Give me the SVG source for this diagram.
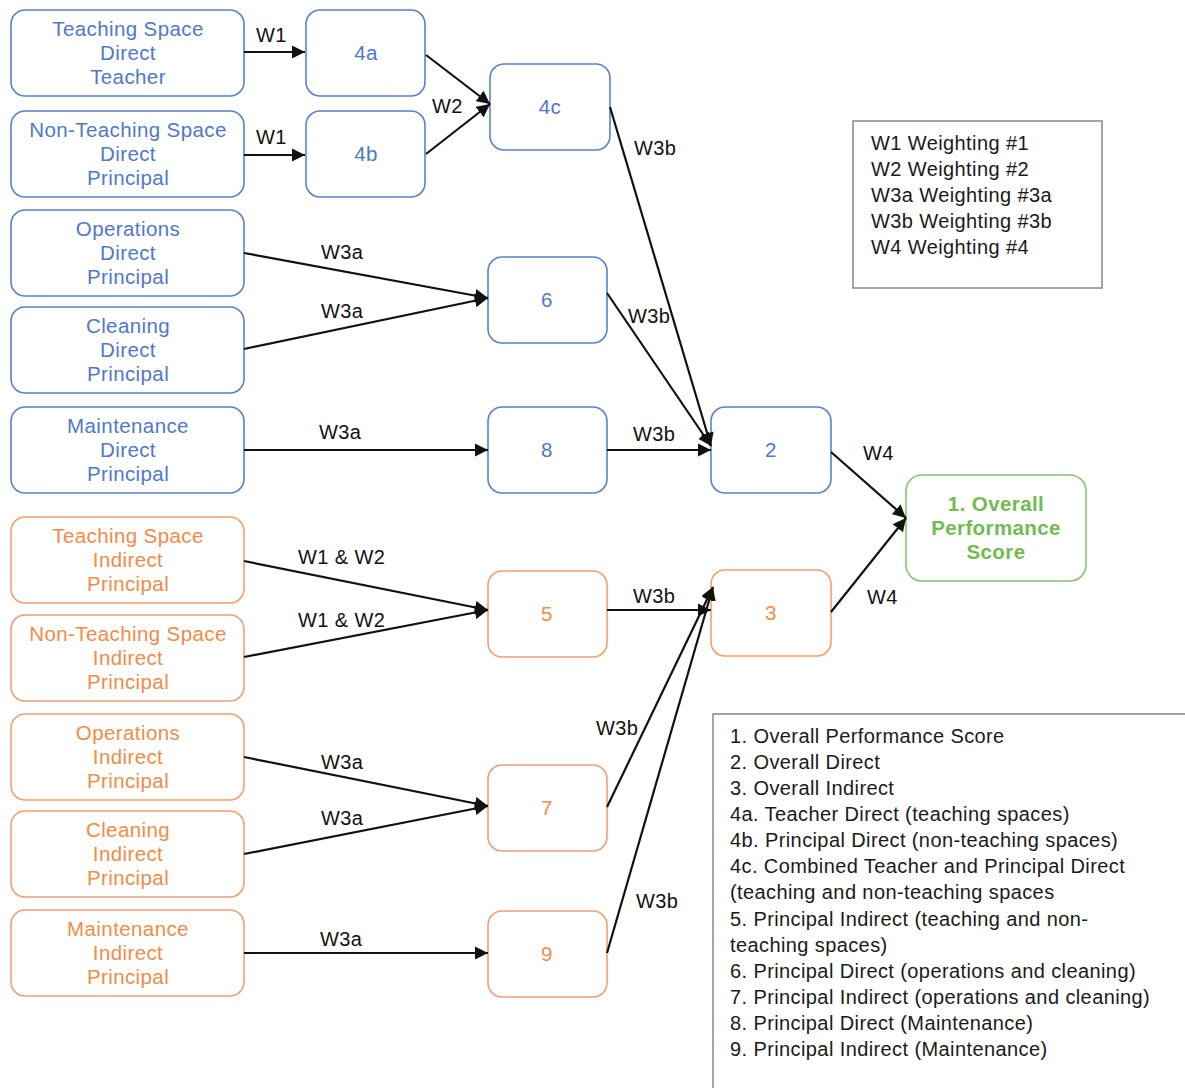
<svg xmlns="http://www.w3.org/2000/svg" width="1185" height="1088" viewBox="0 0 1185 1088">
<style>
  text { font-family: "Liberation Sans", Arial, sans-serif; }
  .box { fill: #fff; stroke-width: 1.6; }
  .d rect { stroke: #5b80cc; }
  .d text { fill: #5078c8; }
  .i rect { stroke: #f2a070; }
  .i text { fill: #f08c48; }
  .g rect { stroke: #88c46c; }
  .g text { fill: #72bb52; font-weight: bold; }
  .nt { font-size: 20.5px; letter-spacing: 0.4px; text-anchor: middle; }
  .edge { stroke: #111; stroke-width: 2.2; fill: none; marker-end: url(#ah); }
  .lbl { font-size: 20px; letter-spacing: 0.4px; fill: #111; }
  .leg rect { fill: #fff; stroke: #888; stroke-width: 1.5; }
  .leg text { font-size: 20px; letter-spacing: 0.4px; fill: #1a1a1a; }
</style>
<defs>
  <marker id="ah" viewBox="0 0 10 10" refX="10" refY="5" markerWidth="6" markerHeight="6" orient="auto" markerUnits="strokeWidth">
    <path d="M0,0 L10,5 L0,10 z" fill="#111"/>
  </marker>
</defs>
<rect width="1185" height="1088" fill="#fff"/>

<!-- source nodes: direct -->
<g id="ts-direct" class="d"><rect class="box" x="11" y="10" width="233" height="86" rx="14"/>
  <text class="nt" x="128" y="36">Teaching Space</text><text class="nt" x="128" y="60">Direct</text><text class="nt" x="128" y="84">Teacher</text></g>
<g id="nts-direct" class="d"><rect class="box" x="11" y="111" width="233" height="86" rx="14"/>
  <text class="nt" x="128" y="137">Non-Teaching Space</text><text class="nt" x="128" y="161">Direct</text><text class="nt" x="128" y="185">Principal</text></g>
<g id="ops-direct" class="d"><rect class="box" x="11" y="210" width="233" height="86" rx="14"/>
  <text class="nt" x="128" y="236">Operations</text><text class="nt" x="128" y="260">Direct</text><text class="nt" x="128" y="284">Principal</text></g>
<g id="clean-direct" class="d"><rect class="box" x="11" y="307" width="233" height="86" rx="14"/>
  <text class="nt" x="128" y="333">Cleaning</text><text class="nt" x="128" y="357">Direct</text><text class="nt" x="128" y="381">Principal</text></g>
<g id="maint-direct" class="d"><rect class="box" x="11" y="407" width="233" height="86" rx="14"/>
  <text class="nt" x="128" y="433">Maintenance</text><text class="nt" x="128" y="457">Direct</text><text class="nt" x="128" y="481">Principal</text></g>

<!-- source nodes: indirect -->
<g id="ts-indirect" class="i"><rect class="box" x="11" y="517" width="233" height="86" rx="14"/>
  <text class="nt" x="128" y="543">Teaching Space</text><text class="nt" x="128" y="567">Indirect</text><text class="nt" x="128" y="591">Principal</text></g>
<g id="nts-indirect" class="i"><rect class="box" x="11" y="615" width="233" height="86" rx="14"/>
  <text class="nt" x="128" y="641">Non-Teaching Space</text><text class="nt" x="128" y="665">Indirect</text><text class="nt" x="128" y="689">Principal</text></g>
<g id="ops-indirect" class="i"><rect class="box" x="11" y="714" width="233" height="86" rx="14"/>
  <text class="nt" x="128" y="740">Operations</text><text class="nt" x="128" y="764">Indirect</text><text class="nt" x="128" y="788">Principal</text></g>
<g id="clean-indirect" class="i"><rect class="box" x="11" y="811" width="233" height="86" rx="14"/>
  <text class="nt" x="128" y="837">Cleaning</text><text class="nt" x="128" y="861">Indirect</text><text class="nt" x="128" y="885">Principal</text></g>
<g id="maint-indirect" class="i"><rect class="box" x="11" y="910" width="233" height="86" rx="14"/>
  <text class="nt" x="128" y="936">Maintenance</text><text class="nt" x="128" y="960">Indirect</text><text class="nt" x="128" y="984">Principal</text></g>

<!-- intermediate score nodes -->
<g id="n4a" class="d"><rect class="box" x="306" y="10" width="119" height="86" rx="14"/><text class="nt" x="366" y="60">4a</text></g>
<g id="n4b" class="d"><rect class="box" x="306" y="111" width="119" height="86" rx="14"/><text class="nt" x="366" y="161">4b</text></g>
<g id="n4c" class="d"><rect class="box" x="490" y="64" width="120" height="86" rx="14"/><text class="nt" x="550" y="114">4c</text></g>
<g id="n6" class="d"><rect class="box" x="488" y="257" width="119" height="86" rx="14"/><text class="nt" x="547" y="307">6</text></g>
<g id="n8" class="d"><rect class="box" x="488" y="407" width="119" height="86" rx="14"/><text class="nt" x="547" y="457">8</text></g>
<g id="n5" class="i"><rect class="box" x="488" y="571" width="119" height="86" rx="14"/><text class="nt" x="547" y="621">5</text></g>
<g id="n7" class="i"><rect class="box" x="488" y="765" width="119" height="86" rx="14"/><text class="nt" x="547" y="815">7</text></g>
<g id="n9" class="i"><rect class="box" x="488" y="911" width="119" height="86" rx="14"/><text class="nt" x="547" y="961">9</text></g>
<g id="n2" class="d"><rect class="box" x="711" y="407" width="120" height="86" rx="14"/><text class="nt" x="771" y="457">2</text></g>
<g id="n3" class="i"><rect class="box" x="711" y="570" width="120" height="86" rx="14"/><text class="nt" x="771" y="620">3</text></g>
<g id="n1" class="g"><rect class="box" x="906" y="475" width="180" height="106" rx="16"/>
  <text class="nt" x="996" y="511">1. Overall</text><text class="nt" x="996" y="535">Performance</text><text class="nt" x="996" y="559">Score</text></g>

<!-- connectors -->
<g id="connectors">
  <line class="edge" x1="244" y1="52" x2="305" y2="52"/>
  <line class="edge" x1="244" y1="155" x2="305" y2="155"/>
  <line class="edge" x1="426" y1="55" x2="490" y2="104"/>
  <line class="edge" x1="426" y1="154" x2="490" y2="104"/>
  <line class="edge" x1="610" y1="107" x2="711" y2="446"/>
  <line class="edge" x1="244" y1="253" x2="488" y2="298"/>
  <line class="edge" x1="244" y1="349" x2="488" y2="298"/>
  <line class="edge" x1="607" y1="293" x2="711" y2="446"/>
  <line class="edge" x1="244" y1="450" x2="488" y2="450"/>
  <line class="edge" x1="607" y1="450" x2="711" y2="450"/>
  <line class="edge" x1="831" y1="452" x2="906" y2="518"/>
  <line class="edge" x1="831" y1="612" x2="906" y2="518"/>
  <line class="edge" x1="244" y1="561" x2="488" y2="610"/>
  <line class="edge" x1="244" y1="657" x2="488" y2="610"/>
  <line class="edge" x1="607" y1="610" x2="711" y2="610"/>
  <line class="edge" x1="607" y1="807" x2="713" y2="587"/>
  <line class="edge" x1="607" y1="953" x2="713" y2="587"/>
  <line class="edge" x1="244" y1="757" x2="488" y2="806"/>
  <line class="edge" x1="244" y1="854" x2="488" y2="806"/>
  <line class="edge" x1="244" y1="953" x2="488" y2="953"/>

  <text class="lbl" x="256" y="42">W1</text>
  <text class="lbl" x="256" y="144">W1</text>
  <text class="lbl" x="432" y="113">W2</text>
  <text class="lbl" x="634" y="155">W3b</text>
  <text class="lbl" x="321" y="259">W3a</text>
  <text class="lbl" x="321" y="318">W3a</text>
  <text class="lbl" x="628" y="323">W3b</text>
  <text class="lbl" x="319" y="439">W3a</text>
  <text class="lbl" x="633" y="441">W3b</text>
  <text class="lbl" x="863" y="460">W4</text>
  <text class="lbl" x="867" y="604">W4</text>
  <text class="lbl" x="298" y="564">W1 &amp; W2</text>
  <text class="lbl" x="298" y="627">W1 &amp; W2</text>
  <text class="lbl" x="633" y="603">W3b</text>
  <text class="lbl" x="596" y="735">W3b</text>
  <text class="lbl" x="636" y="908">W3b</text>
  <text class="lbl" x="321" y="769">W3a</text>
  <text class="lbl" x="321" y="825">W3a</text>
  <text class="lbl" x="320" y="946">W3a</text>
</g>

<!-- weighting key -->
<g id="weight-key" class="leg">
  <rect x="853" y="121" width="249" height="167"/>
  <text x="871" y="150">W1 Weighting #1</text>
  <text x="871" y="176">W2 Weighting #2</text>
  <text x="871" y="202">W3a Weighting #3a</text>
  <text x="871" y="228">W3b Weighting #3b</text>
  <text x="871" y="254">W4 Weighting #4</text>
</g>

<!-- score key -->
<g id="score-key" class="leg">
  <rect x="713" y="714" width="480" height="380"/>
  <text x="730" y="743">1. Overall Performance Score</text>
  <text x="730" y="769">2. Overall Direct</text>
  <text x="730" y="795">3. Overall Indirect</text>
  <text x="730" y="821">4a. Teacher Direct (teaching spaces)</text>
  <text x="730" y="847">4b. Principal Direct (non-teaching spaces)</text>
  <text x="730" y="873">4c. Combined Teacher and Principal Direct</text>
  <text x="730" y="899">(teaching and non-teaching spaces</text>
  <text x="730" y="926">5. Principal Indirect (teaching and non-</text>
  <text x="730" y="952">teaching spaces)</text>
  <text x="730" y="978">6. Principal Direct (operations and cleaning)</text>
  <text x="730" y="1004">7. Principal Indirect (operations and cleaning)</text>
  <text x="730" y="1030">8. Principal Direct (Maintenance)</text>
  <text x="730" y="1056">9. Principal Indirect (Maintenance)</text>
</g>
</svg>
